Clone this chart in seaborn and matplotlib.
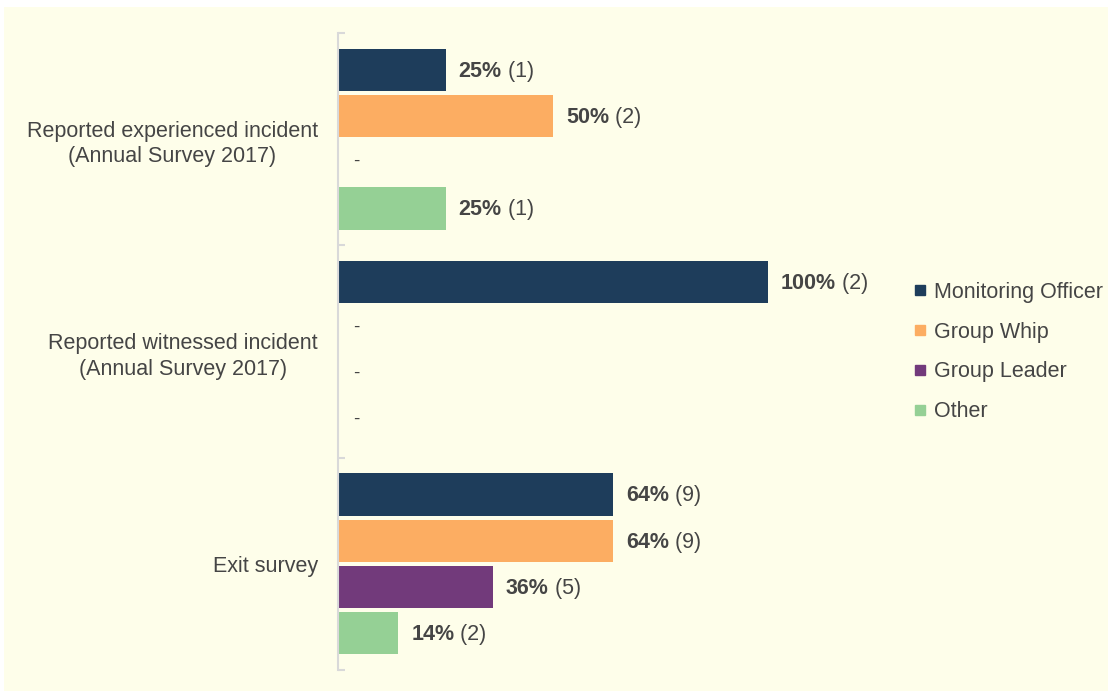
import matplotlib
matplotlib.use("Agg")
import matplotlib.pyplot as plt
from matplotlib.lines import Line2D
from matplotlib.patches import Rectangle
import seaborn as sns
import pandas as pd

categories = ["Reported experienced incident\n(Annual Survey 2017)",
              "Reported witnessed incident\n(Annual Survey 2017)",
              "Exit survey"]
series = ["Monitoring Officer", "Group Whip", "Group Leader", "Other"]
pct_monitoring = [25, 100, 64]
pct_whip = [50, 0, 64]
pct_leader = [0, 0, 36]
pct_other = [25, 0, 14]
cnt_monitoring = [1, 2, 9]
cnt_whip = [2, 0, 9]
cnt_leader = [0, 0, 5]
cnt_other = [1, 0, 2]
colors = ["#1E3D5B", "#FCAD62", "#723A7B", "#95D095"]

pcts = [pct_monitoring, pct_whip, pct_leader, pct_other]
cnts = [cnt_monitoring, cnt_whip, cnt_leader, cnt_other]
rows = []
for s, p, c in zip(series, pcts, cnts):
    for cat, pv, cv in zip(categories, p, c):
        rows.append({"category": cat, "series": s, "pct": pv, "count": cv})
df = pd.DataFrame(rows)

sns.set_style("white")
plt.rcParams['font.family'] = ['Liberation Sans', 'DejaVu Sans']
txt_color = "#454545"
fs = 15.5

fig = plt.figure(figsize=(11.08, 6.91), dpi=100)
fig.patch.set_facecolor("white")
fig.patches.append(Rectangle((4/1108, 0), 1 - 4/1108, 1 - 7/691, transform=fig.transFigure,
                             facecolor="#FEFEEA", edgecolor="none", zorder=-10))

W, H = 1108, 691
ax = fig.add_axes([338/W, 1 - 670/H, (900-338)/W, (670-33)/H])
ax.set_facecolor("none")

sns.barplot(data=df, y="category", x="pct", hue="series", order=categories,
            hue_order=series, palette=colors, orient="h", width=0.87, gap=0.085,
            saturation=1, errorbar=None, ax=ax, legend=False, linewidth=0)

xmax = 562 / 430 * 100
ax.set_xlim(0, xmax)
ax.set_ylim(2.5, -0.5)

for spine in ["top", "right", "bottom"]:
    ax.spines[spine].set_visible(False)
ax.spines["left"].set_color("#D9D9D9")
ax.spines["left"].set_linewidth(1.5)
ax.set_xticks([])
ax.set_xlabel("")
ax.set_ylabel("")
ax.set_yticks(range(len(categories)))
ax.set_yticklabels(categories, fontsize=fs, color=txt_color, multialignment="center",
                   linespacing=1.3)
ax.tick_params(axis="y", which="major", length=0, pad=14.5)
ax.set_yticks([-0.5, 0.5, 1.5, 2.5], minor=True)
ax.tick_params(axis="y", which="minor", left=True, length=5, direction="in",
               color="#D9D9D9", width=1.5)

px = 72 / 100
for ci, (container, p, c) in enumerate(zip(ax.containers, pcts, cnts)):
    for patch, pv, cv in zip(container.patches, p, c):
        yc = patch.get_y() + patch.get_height() / 2
        if pv == 0:
            ax.annotate("-", xy=(0, yc), xytext=(15 * px, 1), textcoords="offset points",
                        va="center", ha="left", fontsize=fs - 2, color=txt_color)
        else:
            t1 = ax.annotate(f"{pv}%", xy=(pv, yc), xytext=(13 * px, -1),
                             textcoords="offset points", va="center", ha="left",
                             fontsize=fs, fontweight="bold", color=txt_color)
            ax.annotate(f" ({cv})", xy=(1, 0), xycoords=t1, va="bottom", ha="left",
                        fontsize=fs, color=txt_color)

handles = [Line2D([0], [0], marker="s", linestyle="none", markersize=7.5,
                  markerfacecolor=col, markeredgecolor=col) for col in colors]
fig.legend(handles, series, loc="center left", bbox_to_anchor=(914/W, 1 - 352/H),
           frameon=False, fontsize=fs, labelcolor=txt_color, borderpad=0,
           borderaxespad=0, handlelength=0.6, handletextpad=0.35, labelspacing=0.87)

fig.savefig("out.png", dpi=100)
